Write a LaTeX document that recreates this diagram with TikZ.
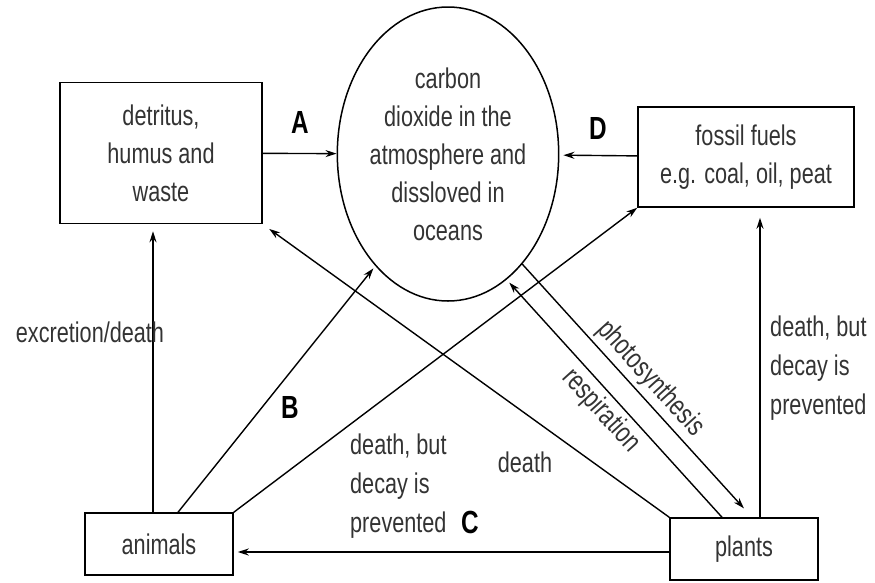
\documentclass[tikz,border=0pt]{standalone}
\usepackage{fontspec}
\setmainfont{Liberation Sans}[FakeStretch=0.76]
\usepackage{tikz}
\usetikzlibrary{shapes.geometric, arrows.meta, positioning}

\begin{document}
\begin{tikzpicture}[x=1pt, y=-1pt]
\tikzstyle{cbox} = [rectangle, draw, line width=1.5pt, text=black!80, align=center, font=\fontsize{28.5}{38}\selectfont, inner sep=0pt]
\tikzstyle{arrow} = [line width=1.4pt, ->, >={Stealth[length=11pt,width=7pt]}]
\tikzstyle{lbl} = [text=black!80, font=\fontsize{28.5}{39}\selectfont, align=left, inner sep=0pt]
\tikzstyle{letter} = [font=\fontsize{32}{32}\selectfont\bfseries, inner sep=0pt]

\useasboundingbox (0,0) rectangle (875,582);

\node (detritus) [cbox, minimum width=202pt, minimum height=141pt] at (161,153) {detritus,\\humus and\\waste};
\node (co2) [cbox, ellipse, minimum width=212pt, minimum height=294pt] at (448,154) {carbon\\dioxide in the\\atmosphere and\\dissloved in\\oceans};
\node (fossil) [cbox, minimum width=216pt, minimum height=100pt] at (746,157) {fossil fuels\\e.g. coal, oil, peat};
\node (animals) [cbox, minimum width=148pt, minimum height=62pt] at (159,544) {animals};
\node (plants) [cbox, minimum width=148pt, minimum height=62pt] at (744,549) {plants};

\draw [arrow] (detritus) -- (co2);
\draw [arrow, shorten >=4pt] (fossil) -- (co2);
\draw [arrow, shorten >=7pt] ([xshift=-6pt]animals.north) -- ([xshift=-6pt]animals.north |- detritus.south);
\draw [arrow, shorten >=3pt] ([xshift=19pt]animals.north) -- (co2.-123);
\draw [arrow] (animals.north east) -- (fossil.south west);
\draw [arrow, shorten >=8pt] (plants.north west) -- (detritus.south east);
\draw [arrow, shorten >=4pt] ([xshift=-22pt]plants.north) -- (co2.-65)
  node [midway, below=4pt, sloped, text=black!80, font=\fontsize{28.5}{38}\selectfont, inner sep=0pt] {respiration};
\draw [arrow, shorten >=12pt] (co2.-56) -- ([xshift=8pt]plants.north)
  node [midway, above=4pt, sloped, text=black!80, font=\fontsize{28.5}{38}\selectfont, inner sep=0pt] {photosynthesis};
\draw [arrow, shorten >=10pt] ([xshift=16pt]plants.north) -- ([xshift=16pt]plants.north |- fossil.south);
\draw [arrow, shorten >=4pt] ([yshift=-3pt]plants.west) -- ([yshift=-3pt]plants.west -| animals.east);

\node (lblA) [letter] at (300,122) {A};
\node (lblB) [letter] at (290,407) {B};
\node (lblC) [letter] at (470,522) {C};
\node (lblD) [letter] at (598,128) {D};
\node (lblexc) [lbl] at (90,332) {excretion/death};
\node (lbldeath) [lbl] at (525,462) {death};
\node (lblanim) [lbl, anchor=west] at (350,486) {death, but\\decay is\\prevented};
\node (lblplant) [lbl, anchor=west] at (770,368) {death, but\\decay is\\prevented};

\end{tikzpicture}
\end{document}
